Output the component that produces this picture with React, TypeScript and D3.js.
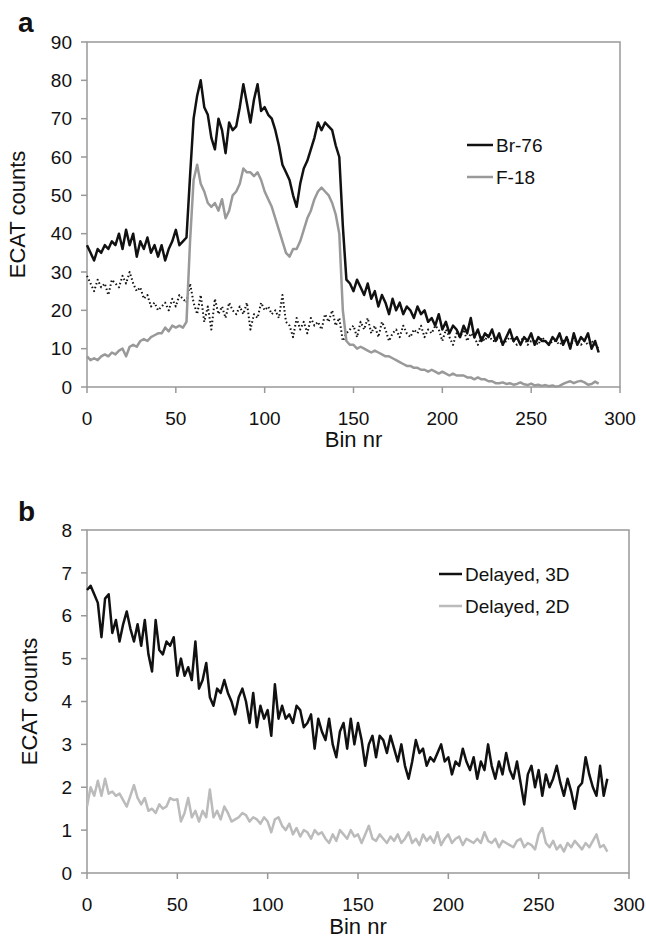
import React from "react";
import * as d3 from "d3";

// bins sampled every 2
const binsA = d3.range(0, 289, 2);
const binsB = d3.range(0, 289, 2);

const br76 = [
  37,35,33,36,35,37,36,38,37,40,
  36,41,37,40,34,38,36,39,35,37,
  34,37,33,36,38,41,37,38,39,55,
  70,76,80,73,71,65,62,70,67,61,
  69,67,68,73,79,74,69,75,79,72,
  73,71,70,67,63,58,56,54,50,47,
  53,57,59,62,65,69,67,69,68,67,
  63,60,42,28,27,25,28,26,24,27,
  23,25,21,24,22,19,23,20,22,19,
  21,20,18,21,19,20,17,18,16,19,
  15,17,14,16,15,13,16,14,18,13,
  15,12,14,13,15,12,14,11,13,15,
  12,13,11,13,12,14,11,13,12,12,
  11,13,12,14,11,13,10,14,11,13,
  12,14,10,12,9,
];

const f18 = [
  8,7,7.5,7,8,8.5,8,9,8.5,9.5,
  10,8,10.5,11,10.5,12,12.5,12,13,13.5,
  14,14,15.5,14.5,16,15.5,16,15.5,17,38,
  54,58,53,51,48,47,48,46,49,44,
  46,50,51,53,57,56,56,55,56,54,
  51,49,47,44,41,38,35,34,36,36,
  38,41,44,46,49,51,52,51,50,48,
  45,40,20,12,11,11,10,10.5,10,9.5,
  9,9.5,9,8.5,8,8,7.5,7,6.5,6,
  5.5,5.5,5,5,4.5,4.5,4,4.5,4,3.5,
  4,3.5,3,3.5,3,3,3,2.5,2.5,2,
  2.5,2,2,1.5,1.5,1,1,1.2,0.8,1,
  0.6,0.8,1.2,0.7,0.5,0.9,0.4,0.6,0.3,0.5,
  0.2,0.4,0.1,0.3,0.8,1.2,1.5,1,1.4,1.6,
  1.2,0.6,0.8,1.4,0.9,
];

const dotted = [
  29,27,25,28,26,27,24,28,27,26,
  29,27,30,27,25,26,23,24,21,22,
  20,21,22,20,23,21,24,23,22,27,
  22,19,24,17,21,15,23,19,21,18,
  22,20,19,21,19,22,15,19,18,22,
  20,21,19,20,18,24,17,16,13,18,
  15,17,14,18,16,17,15,19,17,20,
  16,18,12,14,15,16,13,17,15,18,
  14,16,13,17,15,12,14,15,13,16,
  14,13,15,14,16,13,15,14,16,15,
  12,15,13,11,14,13,15,12,14,13,
  11,13,12,14,12,12,13,11,12,13,
  12,11,12,13,11,12,12,11,13,12,
  11,12,12,11,12,13,11,12,12,11,
  12,11,12,11,10,
];

const delayed3D = [
  6.6,6.7,6.5,6.3,5.5,6.4,6.5,5.6,5.9,5.4,
  5.8,6.1,5.7,5.4,5.8,5.3,5.9,5.1,4.7,5.9,
  5.2,5.1,5.4,5.3,5.5,4.6,5.0,4.6,4.8,4.5,
  5.4,4.3,4.5,4.9,4.1,3.9,4.3,4.2,4.5,4.2,
  4.0,3.7,4.1,4.3,4.0,3.5,4.2,3.4,3.9,3.6,
  3.8,3.2,4.4,3.6,3.9,3.6,3.7,3.5,3.9,3.8,
  3.4,3.5,3.7,2.9,3.6,3.3,3.1,3.6,3.0,2.7,
  3.3,3.5,2.9,3.6,3.0,3.5,3.1,2.5,3.0,3.2,
  2.7,3.2,3.1,2.8,3.2,2.9,2.6,3.0,2.5,2.2,
  2.6,3.1,2.8,2.9,2.5,2.7,2.6,2.8,3.0,2.6,
  2.7,2.3,2.6,2.5,2.9,2.6,2.4,2.7,2.2,2.6,
  2.4,3.0,2.5,2.2,2.6,2.3,2.8,2.4,2.2,2.6,
  2.1,1.6,2.3,2.5,2.0,2.4,1.8,2.3,2.0,2.2,
  2.5,2.1,1.8,2.2,1.9,1.5,2.0,2.1,2.7,2.3,
  2.0,1.8,2.5,1.8,2.2,
];

const delayed2D = [
  1.55,2.0,1.8,2.15,1.8,2.2,1.85,1.9,1.8,1.85,
  1.7,1.55,1.8,2.05,1.75,1.6,1.75,1.45,1.5,1.4,
  1.6,1.5,1.55,1.75,1.7,1.72,1.2,1.4,1.75,1.3,
  1.45,1.2,1.45,1.3,1.95,1.3,1.45,1.25,1.55,1.4,
  1.2,1.25,1.3,1.4,1.35,1.2,1.3,1.25,1.15,1.3,
  1.2,0.95,1.25,1.3,1.1,1.0,1.15,0.9,1.05,0.85,
  1.0,0.95,0.8,1.0,0.9,0.95,0.8,0.7,0.9,0.75,
  1.0,0.9,0.8,1.0,0.85,0.9,0.7,0.9,1.1,0.8,
  0.75,0.9,0.8,0.7,0.85,0.75,0.9,0.7,0.8,0.95,
  0.7,0.8,0.65,0.9,0.75,0.85,0.7,0.95,0.65,0.8,
  0.9,0.7,0.8,0.85,0.65,0.8,0.75,0.7,0.8,0.7,
  0.95,0.75,0.7,0.8,0.6,0.75,0.7,0.65,0.6,0.75,
  0.8,0.6,0.7,0.65,0.55,0.9,1.05,0.7,0.6,0.75,
  0.55,0.65,0.5,0.7,0.6,0.75,0.65,0.55,0.7,0.6,
  0.75,0.9,0.6,0.65,0.5,
];

const xTicks = [0, 50, 100, 150, 200, 250, 300];
const yTicksA = [0, 10, 20, 30, 40, 50, 60, 70, 80, 90];
const yTicksB = [0, 1, 2, 3, 4, 5, 6, 7, 8];

const FONT = "'Liberation Sans', Arial, sans-serif";
const AXIS = "#999";

type Series = { values: number[]; color: string; width: number; dash?: string };

function Panel(props: {
  letter: string;
  letterY: number;
  x0: number; x1: number; yTop: number; yBot: number;
  yMax: number; yTicks: number[];
  bins: number[];
  series: Series[];
  legend: { label: string; color: string }[];
  legX0: number; legX1: number; legY: number; legGap: number;
  xLabelY: number; tickLabelY: number; yTitleX: number;
}) {
  const p = props;
  const x = d3.scaleLinear().domain([0, 300]).range([p.x0, p.x1]);
  const y = d3.scaleLinear().domain([0, p.yMax]).range([p.yBot, p.yTop]);
  const line = d3.line<number>().x((_, i) => x(p.bins[i])).y((d) => y(d));
  return (
    <g>
      <text x={18} y={p.letterY} fontFamily={FONT} fontWeight="bold" fontSize={28} fill="#111">{p.letter}</text>
      <rect x={p.x0} y={p.yTop} width={p.x1 - p.x0} height={p.yBot - p.yTop} fill="none" stroke={AXIS} strokeWidth={1.5} />
      {p.yTicks.map((t) => (
        <g key={"y" + t}>
          <line x1={p.x0 - 6} x2={p.x0} y1={y(t)} y2={y(t)} stroke={AXIS} strokeWidth={1.5} />
          <text x={p.x0 - 15} y={y(t)} dy="0.35em" textAnchor="end" fontFamily={FONT} fontSize={19} fill="#111">{t}</text>
        </g>
      ))}
      {xTicks.map((t) => (
        <g key={"x" + t}>
          <line x1={x(t)} x2={x(t)} y1={p.yBot} y2={p.yBot + 6} stroke={AXIS} strokeWidth={1.5} />
          <text x={x(t)} y={p.tickLabelY} textAnchor="middle" fontFamily={FONT} fontSize={19} fill="#111">{t}</text>
        </g>
      ))}
      <text x={(p.x0 + p.x1) / 2} y={p.xLabelY} textAnchor="middle" fontFamily={FONT} fontSize={22} fill="#111">Bin nr</text>
      <text transform={`translate(${p.yTitleX},${(p.yTop + p.yBot) / 2}) rotate(-90)`} textAnchor="middle" fontFamily={FONT} fontSize={22} fill="#111">ECAT counts</text>
      {p.series.map((s, i) => (
        <path key={i} d={line(s.values) || ""} fill="none" stroke={s.color} strokeWidth={s.width} strokeDasharray={s.dash} strokeLinejoin="round" />
      ))}
      {p.legend.map((l, i) => (
        <g key={l.label}>
          <line x1={p.legX0} x2={p.legX1} y1={p.legY + i * p.legGap} y2={p.legY + i * p.legGap} stroke={l.color} strokeWidth={2.5} />
          <text x={p.legX1 + 3} y={p.legY + i * p.legGap} dy="0.35em" fontFamily={FONT} fontSize={19} fill="#111">{l.label}</text>
        </g>
      ))}
    </g>
  );
}

export default function App() {
  return (
    <svg width={646} height={941} style={{ position: "absolute", left: 0, top: 0, background: "#fff" }}>
      <Panel
        letter="a" letterY={32}
        x0={87} x1={620} yTop={42} yBot={387} yMax={90} yTicks={yTicksA}
        bins={binsA}
        series={[
          { values: dotted, color: "#111", width: 2, dash: "1.5,2.5" },
          { values: f18, color: "#999", width: 2.5 },
          { values: br76, color: "#111", width: 2.5 },
        ]}
        legend={[{ label: "Br-76", color: "#111" }, { label: "F-18", color: "#999" }]}
        legX0={467} legX1={493} legY={145} legGap={32}
        xLabelY={447} tickLabelY={425} yTitleX={25}
      />
      <Panel
        letter="b" letterY={521}
        x0={87} x1={629} yTop={530} yBot={873} yMax={8} yTicks={yTicksB}
        bins={binsB}
        series={[
          { values: delayed2D, color: "#bbb", width: 2.5 },
          { values: delayed3D, color: "#111", width: 2.5 },
        ]}
        legend={[{ label: "Delayed, 3D", color: "#111" }, { label: "Delayed, 2D", color: "#bbb" }]}
        legX0={439} legX1={462} legY={574} legGap={32}
        xLabelY={934} tickLabelY={911} yTitleX={37}
      />
    </svg>
  );
}
